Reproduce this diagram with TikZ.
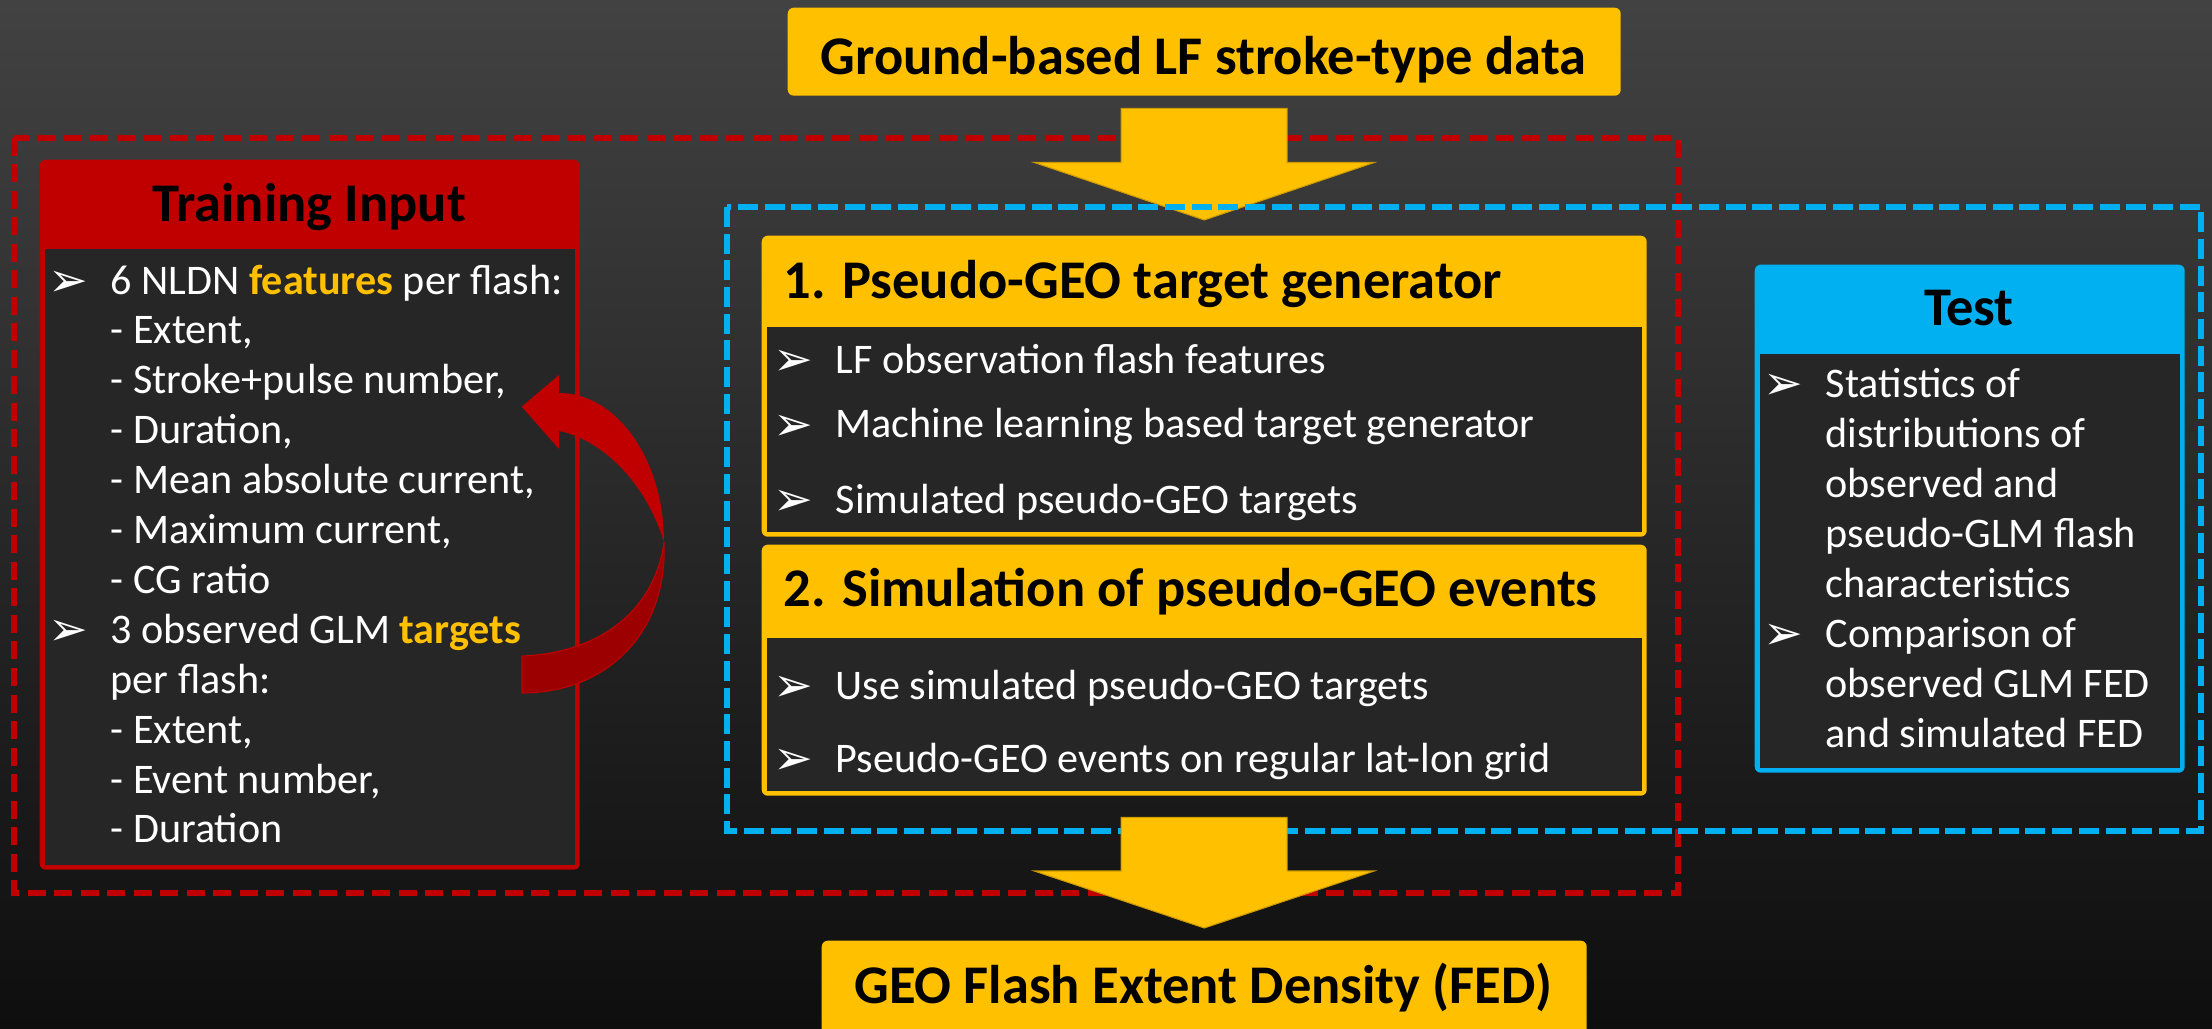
\documentclass[tikz,border=0pt]{standalone}
\usepackage{fontspec}
\setmainfont{Carlito}
\newfontfamily\bulfont{DejaVu Sans}
\usetikzlibrary{calc}

\definecolor{tyellow}{HTML}{FFC000}
\definecolor{tred}{HTML}{C00000}
\definecolor{tdarkred}{HTML}{9C0000}
\definecolor{tblue}{HTML}{00B0F0}
\definecolor{tbody}{HTML}{262626}
\definecolor{bgtop}{HTML}{424242}
\definecolor{bgbot}{HTML}{0E0E0E}

\newcommand{\bul}{\llap{\raisebox{-0.1ex}{\bulfont\fontsize{13.5}{13.5}\selectfont ➢}\hspace{2.2mm}}}
\newcommand{\hl}[1]{\textbf{\textcolor{tyellow}{#1}}}

\tikzset{
	panel/.style={rectangle, rounded corners=0.6mm, inner sep=0, anchor=north west},
	panelbody/.style={rectangle, fill=tbody, inner sep=0, anchor=north west},
	headtext/.style={inner sep=0, text=black, font=\fontsize{15.5}{18}\selectfont\bfseries},
	listtext/.style={inner sep=0, align=left, anchor=base west, text=white, font=\fontsize{12}{14.2}\selectfont},
	itemtext/.style={inner sep=0, anchor=base west, text=white, font=\fontsize{12}{14.2}\selectfont},
	bigarrow/.style={fill=tyellow, draw=tyellow!80!black, line width=0.3pt},
}

\begin{document}
\begin{tikzpicture}[x=1mm, y=-1mm]
		\useasboundingbox (0,0) rectangle (221.2,102.9);
		\shade[top color=bgtop, bottom color=bgbot] (0,0) rectangle (221.2,102.9);

		\draw [tred, line width=0.65mm, dash pattern=on 1.8mm off 0.85mm] (1.4,13.8) rectangle (167.8,89.3);

		\node[panel, fill=tyellow, minimum width=83.3mm, minimum height=8.8mm] (ground) at (78.7,0.7) {};
		\node[headtext, anchor=base] (groundtxt) at (120.35,7.45) {Ground-based LF stroke-type data};

		\node[panel, fill=tyellow, minimum width=88.5mm, minimum height=30.1mm] (gen) at (76.1,23.5) {};
		\node[panel, fill=tyellow, minimum width=88.5mm, minimum height=25.1mm] (sim) at (76.1,54.4) {};
		\node[panel, fill=tyellow, minimum width=76.5mm, minimum height=9.6mm] (fed) at (82.1,94.0) {};

		\coordinate (a1s) at ($(ground.south)+(0,1.2)$);
		\coordinate (a1e) at ($(gen.north)+(0,-1.5)$);
		\filldraw[bigarrow] ($(a1s)+(-8.3,0)$) -- ($(a1s)+(8.3,0)$) -- ($(a1e)+(8.3,-5.75)$) -- ($(a1e)+(17,-5.75)$) -- (a1e) -- ($(a1e)+(-17,-5.75)$) -- ($(a1e)+(-8.3,-5.75)$) -- cycle;

		\draw [tblue, line width=0.65mm, dash pattern=on 2mm off 0.67mm] (72.7,20.7) rectangle (220.1,83.1);

		\node[panel, fill=tred, minimum width=54mm, minimum height=71mm] (train) at (3.9,15.9) {};
		\node[panelbody, minimum width=53mm, minimum height=61.6mm] (trainbody) at (4.4,24.8) {};
		\node[headtext, anchor=base] (trainhead) at (30.9,22.2) {Training Input};
		\node[listtext] (trainlist) at (11.0,84.3) {\bul 6 NLDN \hl{features} per flash:\\
			- Extent,\\
			- Stroke+pulse number,\\
			- Duration,\\
			- Mean absolute current,\\
			- Maximum current,\\
			- CG ratio\\
			\bul 3 observed GLM \hl{targets}\\
			per flash:\\
			- Extent,\\
			- Event number,\\
			- Duration};

		\node[panelbody, minimum width=87.5mm, minimum height=20.5mm] (genbody) at (76.6,32.6) {};
		\node[headtext, anchor=base west] (genhead) at (78.3,29.85) {1. Pseudo-GEO target generator};
		\node[itemtext] (gen1) at (83.5,37.35) {\bul LF observation flash features};
		\node[itemtext] (gen2) at (83.5,43.8) {\bul Machine learning based target generator};
		\node[itemtext] (gen3) at (83.5,51.35) {\bul Simulated pseudo-GEO targets};

		\node[panelbody, minimum width=87.5mm, minimum height=15.3mm] (simbody) at (76.6,63.7) {};
		\node[headtext, anchor=base west] (simhead) at (78.3,60.7) {2. Simulation of pseudo-GEO events};
		\node[itemtext] (sim1) at (83.5,69.95) {\bul Use simulated pseudo-GEO targets};
		\node[itemtext] (sim2) at (83.5,77.25) {\bul Pseudo-GEO events on regular lat-lon grid};

		\node[panel, fill=tblue, minimum width=43mm, minimum height=50.8mm] (test) at (175.4,26.4) {};
		\node[panelbody, minimum width=42mm, minimum height=41.4mm] (testbody) at (175.9,35.3) {};
		\node[headtext, anchor=base] (testhead) at (196.9,32.6) {Test};
		\node[listtext] (testlist) at (182.5,74.7) {\bul Statistics of\\
			distributions of\\
			observed and\\
			pseudo-GLM flash\\
			characteristics\\
			\bul Comparison of\\
			observed GLM FED\\
			and simulated FED};

		\node[headtext, anchor=base] (fedtxt) at (120.35,100.3) {GEO Flash Extent Density (FED)};

		\coordinate (a2s) at ($(sim.south)+(0,2.1)$);
		\coordinate (a2e) at ($(fed.north)+(0,-1.2)$);
		\filldraw[bigarrow] ($(a2s)+(-8.3,0)$) -- ($(a2s)+(8.3,0)$) -- ($(a2e)+(8.3,-5.7)$) -- ($(a2e)+(17,-5.7)$) -- (a2e) -- ($(a2e)+(-17,-5.7)$) -- ($(a2e)+(-8.3,-5.7)$) -- cycle;

		\filldraw[fill=tdarkred, draw=tred, line width=0.3pt] (66.4,54.2) .. controls (65.5,61) and (60,65.3) .. (52.2,65.6) -- (52.2,69.3) .. controls (60.5,69.3) and (66.8,63.5) .. (66.4,54.2) -- cycle;
		\fill[tred] (52.17,40.67) -- (55.9,37.5) -- (55.9,39.3) .. controls (61.7,39.3) and (66.4,46.0) .. (66.4,54.2) .. controls (64.5,48) and (60,43.9) .. (55.9,43.1) -- (55.9,44.9) -- cycle;
	\end{tikzpicture}
\end{document}
